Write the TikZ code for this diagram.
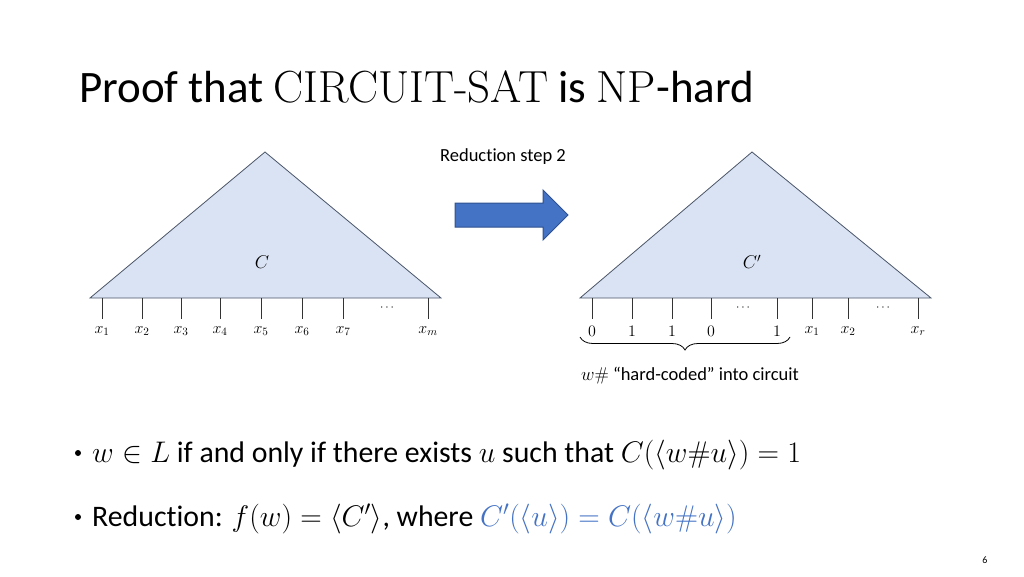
\documentclass[tikz,border=0pt]{standalone}
\usepackage{fix-cm}
\usepackage[no-math]{fontspec}
\setmainfont[Ligatures={NoCommon}]{Carlito}
\usetikzlibrary{decorations.pathreplacing}
\definecolor{trifill}{HTML}{DAE3F3}
\definecolor{triline}{HTML}{4A5568}
\definecolor{arrowblue}{HTML}{4472C4}
\definecolor{arrowedge}{HTML}{2F528F}
\newcommand{\lmfont}{\fontfamily{lmr}\selectfont}
\begin{document}
\begin{tikzpicture}[x=1pt,y=-1pt,
  tri/.style={fill=trifill,draw=triline,line width=0.8pt,line join=miter},
  tick/.style={draw=black!80,line width=0.9pt},
  lab/.style={font=\fontsize{16}{18}\selectfont,inner sep=0pt},
  dots/.style={font=\fontsize{12}{13}\selectfont,inner sep=0pt},
  small/.style={font=\fontsize{18.5}{21}\selectfont,inner sep=0pt},
  bigtxt/.style={font=\fontsize{29.8}{34}\selectfont,inner sep=0pt,anchor=base west},
  bulletdot/.style={circle,fill=black,inner sep=0pt,minimum size=6pt}]
\useasboundingbox (0,0) rectangle (1024,576);
% title
\node[anchor=base west,inner sep=0pt,font=\fontsize{45}{50}\selectfont] (title) at (79,102)
  {Proof that {\lmfont CIRCUIT-SAT} is {\lmfont NP}-hard};
% left triangle
\draw[tri] (90,298) -- (265,152) -- (441,298) -- cycle;
\node[small] (C) at (262,262) {$C$};
\foreach \x/\t [count=\i] in {102/x_1,142/x_2,181/x_3,220/x_4,261/x_5,302/x_6,343/x_7,428/x_m}{
  \coordinate (lt\i) at (\x,298);
  \node[lab] (ll\i) at (\x,331) {$\t$};
  \draw[tick] (lt\i) -- ++(0,21);
}
\node[dots] (ldots) at (387,308) {$\cdots$};
% arrow
\node[small] (step) at (503,157) {Reduction step 2};
\draw[fill=arrowblue,draw=arrowedge,line width=1pt,line join=miter]
  (455,203) -- (543,203) -- (543,190) -- (568,215) -- (543,240) -- (543,227) -- (455,227) -- cycle;
% right triangle
\draw[tri] (580,298) -- (752,152) -- (931,298) -- cycle;
\node[small] (Cp) at (752,262) {$C'$};
\foreach \x/\t [count=\i] in {592/0,632/1,672/1,711/0,777/1,812/x_1,848/x_2,918/x_r}{
  \coordinate (rt\i) at (\x,298);
  \node[lab] (rl\i) at (\x,331) {$\t$};
  \draw[tick] (rt\i) -- ++(0,21);
}
\node[dots] (rdots1) at (743,308) {$\cdots$};
\node[dots] (rdots2) at (883,308) {$\cdots$};
% brace
\coordinate (bl) at (580,337);
\coordinate (br) at (790,337);
\draw[decorate,decoration={brace,mirror,amplitude=13pt},line width=0.8pt] (bl) -- (br);
\node[small] (hc) at (690,376) {$w\#$ “hard-coded” into circuit};
% bullets
\node[bulletdot] (bul1) at (78,453) {};
\node[bigtxt] (b1) at (92,462) {$w\in L$ if and only if there exists $u$ such that $C(\langle w\#u\rangle)=1$};
\node[bulletdot] (bul2) at (78,517) {};
\node[bigtxt] (b2) at (92,526) {Reduction: $f(w)=\langle C'\rangle$, where \textcolor{arrowblue}{$C'(\langle u\rangle)=C(\langle w\#u\rangle)$}};
% page number
\node[font=\fontsize{10}{12}\selectfont,inner sep=0pt] (pg) at (985,560) {6};
\end{tikzpicture}
\end{document}
